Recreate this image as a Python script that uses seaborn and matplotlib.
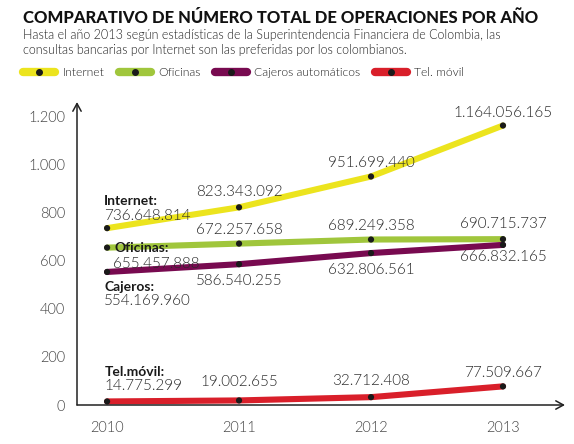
import pandas as pd
import matplotlib.pyplot as plt
import seaborn as sns
from matplotlib.lines import Line2D

# datos (número de operaciones)
years = [2010, 2011, 2012, 2013]
internet = [736648814, 823343092, 951699440, 1164056165]
oficinas = [655457888, 672257658, 689249358, 690715737]
cajeros = [554169960, 586540255, 632806561, 666832165]
movil = [14775299, 19002655, 32712408, 77509667]

series = ['Internet', 'Oficinas', 'Cajeros automáticos', 'Tel. móvil']
short_names = ['Internet:', 'Oficinas:', 'Cajeros:', 'Tel.móvil:']
yticks = [0, 200, 400, 600, 800, 1000, 1200]
ytick_labels = ['0', '200', '400', '600', '800', '1.000', '1.200']

title = 'COMPARATIVO DE NÚMERO TOTAL DE OPERACIONES POR AÑO'
subtitle = ('Hasta el año 2013 según estadísticas de la Superintendencia Financiera de Colombia, las\n'
            'consultas bancarias por Internet son las preferidas por los colombianos.')

colors = {'Internet': '#ECE41E', 'Oficinas': '#A0C63C',
          'Cajeros automáticos': '#780A50', 'Tel. móvil': '#D91F2A'}

values = [internet, oficinas, cajeros, movil]
df = pd.DataFrame({
    'year': years * 4,
    'valor': [v / 1e6 for vals in values for v in vals],
    'serie': [s for s in series for _ in years],
})

sns.set_style('white')
plt.rcParams['font.family'] = ['Lato', 'DejaVu Sans']
thin = 300

fig = plt.figure(figsize=(5.74, 4.44), dpi=100)
ax = fig.add_axes([77 / 574, 39 / 444, 488 / 574, 303 / 444])

sns.lineplot(data=df, x='year', y='valor', hue='serie', palette=colors,
             hue_order=series, linewidth=4.4, legend=False, ax=ax,
             solid_capstyle='round')
for ln in ax.lines:
    ln.set_clip_on(False)
sns.scatterplot(data=df, x='year', y='valor', color='#1a1a1a', s=20,
                edgecolor='none', legend=False, ax=ax, zorder=5, clip_on=False)

ax.set_xlim(2009.772, 2013.47)
ax.set_ylim(0, 1262)
ax.set_xticks(years)
ax.set_xticklabels([str(y) for y in years], fontweight=thin)
ax.set_yticks(yticks)
ax.set_yticklabels(ytick_labels, fontweight=thin)
ax.set_xlabel('')
ax.set_ylabel('')
ax.tick_params(direction='inout', length=11, width=1, color='#222222',
               labelcolor='#444444', labelsize=10.5)
ax.tick_params(axis='x', pad=6)
ax.tick_params(axis='y', pad=3)
for sp in ax.spines.values():
    sp.set_visible(False)

arrow = dict(arrowstyle='->,head_length=0.55,head_width=0.3', lw=1.1, color='#222222',
             shrinkA=0, shrinkB=0)
ax.annotate('', xy=(0, 1), xytext=(0, 0), xycoords='axes fraction', arrowprops=arrow)
ax.annotate('', xy=(1, 0), xytext=(0, 0), xycoords='axes fraction', arrowprops=arrow)

# etiquetas de valores: desplazamiento en puntos (dx, dy)
val_offsets = [
    [(-2, 9), (0, 11), (0, 10), (0, 9)],
    [(4, -11.5), (0, 10), (0, 9.5), (0, 11)],
    [(-2, -21), (0, -12), (0, -12), (0, -9)],
    [(-2, 11), (0, 13.5), (0, 11.5), (0, 10)],
]
name_offsets = [(-2, 19.5), (5, 0), (-2, -11), (-2, 21)]

fmt = lambda v: f'{v:,}'.replace(',', '.')
for i, vals in enumerate(values):
    for j, v in enumerate(vals):
        dx, dy = val_offsets[i][j]
        ax.annotate(fmt(v), xy=(years[j], v / 1e6), xytext=(dx, dy),
                    textcoords='offset points', ha='left' if j == 0 else 'center',
                    va='center', fontsize=11, fontweight=thin, color='#2a2a2a')
    dx, dy = name_offsets[i]
    ax.annotate(short_names[i], xy=(years[0], vals[0] / 1e6), xytext=(dx, dy),
                textcoords='offset points', ha='left', va='center',
                fontsize=10, fontweight='bold', color='#1a1a1a')

fig.text(23 / 574, 1 - 18 / 444, title, fontsize=12, fontweight='black',
         color='#111111', va='center', ha='left')
fig.text(23 / 574, 1 - 42.5 / 444, subtitle, fontsize=9, fontweight=thin,
         color='#222222', va='center', ha='left', linespacing=1.3)

handles = [Line2D([0], [0], color=colors[s], lw=6, marker='o', markersize=4,
                  markerfacecolor='#1a1a1a', markeredgecolor='#1a1a1a',
                  solid_capstyle='round') for s in series]
fig.legend(handles, series, loc='center left', bbox_to_anchor=(23 / 574, 1 - 73 / 444),
           ncol=4, frameon=False, handlelength=2.65, handletextpad=0.6,
           columnspacing=1.2, borderpad=0, borderaxespad=0, labelcolor='#222222',
           prop={'size': 8.7, 'weight': thin})

fig.savefig('out.png', dpi=100)
